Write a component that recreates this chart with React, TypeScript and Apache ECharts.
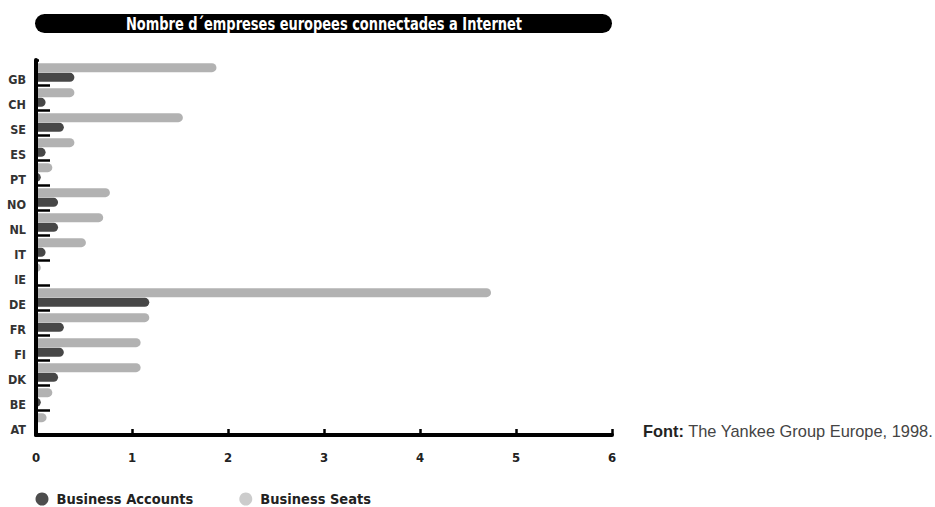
import React, { useEffect, useRef } from "react";
import * as echarts from "echarts";

const categories = ["AT", "BE", "DK", "FI", "FR", "DE", "IE", "IT", "NL", "NO", "PT", "ES", "SE", "CH", "GB"];
const businessAccounts = [0, 0.05, 0.23, 0.29, 0.29, 1.18, 0, 0.1, 0.23, 0.23, 0.05, 0.1, 0.29, 0.1, 0.4];
const businessSeats = [0.11, 0.17, 1.09, 1.09, 1.18, 4.74, 0.05, 0.52, 0.7, 0.77, 0.17, 0.4, 1.53, 0.4, 1.88];
const seriesNames = ["Business Accounts", "Business Seats"];
const titleText = "Nombre d´empreses europees connectades a Internet";
const sourceLabel = "Font:";
const sourceText = " The Yankee Group Europe, 1998.";

const COND = '"DejaVu Sans Condensed", "Liberation Sans Narrow", sans-serif';
const DARK = "#474747";
const LIGHT = "#b2b2b2";

export default function App() {
  const ref = useRef<HTMLDivElement>(null);
  useEffect(() => {
    if (!ref.current) return;
    const chart = echarts.init(ref.current, null, { renderer: "svg" });
    chart.setOption({
      animation: false,
      backgroundColor: "#ffffff",
      grid: { left: 36, right: 323, top: 60, bottom: 72, containLabel: false },
      xAxis: {
        type: "value",
        min: 0,
        max: 6,
        interval: 1,
        z: 10,
        axisLine: { show: true, lineStyle: { color: "#000", width: 4 } },
        axisTick: { show: true, inside: true, length: 6, lineStyle: { color: "#000", width: 2.5 } },
        splitLine: { show: false },
        axisLabel: { margin: 16, color: "#222", fontFamily: COND, fontWeight: "bold", fontSize: 13 },
      },
      yAxis: {
        type: "category",
        data: categories,
        z: 10,
        axisLine: { show: true, lineStyle: { color: "#000", width: 4 } },
        axisTick: { show: true, inside: true, length: 14, lineStyle: { color: "#000", width: 2.5 } },
        axisLabel: {
          margin: 10,
          color: "#333",
          fontFamily: COND,
          fontWeight: "bold",
          fontSize: 12.5,
          verticalAlign: "top",
        },
      },
      legend: {
        left: 35.5,
        top: 491.5,
        padding: 0,
        icon: "circle",
        itemWidth: 13,
        itemHeight: 13,
        itemGap: 46,
        textStyle: { fontFamily: COND, fontWeight: "bold", fontSize: 14.5, color: "#222", padding: [0, 0, 0, 3] },
        data: [
          { name: seriesNames[0], itemStyle: { color: "#4d4d4d" } },
          { name: seriesNames[1], itemStyle: { color: "#cccccc" } },
        ],
      },
      series: [
        {
          name: seriesNames[1],
          type: "bar",
          data: businessSeats,
          barWidth: 9,
          barGap: "8%",
          itemStyle: { color: LIGHT, borderRadius: [0, 4.5, 4.5, 0] },
        },
        {
          name: seriesNames[0],
          type: "bar",
          data: businessAccounts,
          barWidth: 9,
          barGap: "8%",
          itemStyle: { color: DARK, borderRadius: [0, 4.5, 4.5, 0] },
        },
      ],
      graphic: [
        {
          type: "rect",
          z: 100,
          shape: { x: 39, y: 56.5, width: 16, height: 5.5 },
          style: { fill: "#fff" },
        },
        {
          type: "rect",
          shape: { x: 35, y: 14, width: 577, height: 19, r: 9.5 },
          style: { fill: "#000" },
        },
        {
          type: "text",
          x: 324,
          y: 24,
          scaleX: 0.825,
          style: {
            text: titleText,
            fill: "#fff",
            font: `bold 17.5px ${COND}`,
            align: "center",
            verticalAlign: "middle",
          },
        },
        {
          type: "text",
          x: 643,
          y: 431,
          style: {
            text: `{b|${sourceLabel}}{r|${sourceText}}`,
            verticalAlign: "middle",
            rich: {
              b: { fontFamily: '"Liberation Sans", Arial, sans-serif', fontWeight: "bold", fontSize: 16.4, fill: "#222" },
              r: { fontFamily: '"Liberation Sans", Arial, sans-serif', fontSize: 16.4, fill: "#444" },
            },
          },
        },
      ],
    });
    return () => chart.dispose();
  }, []);
  return <div ref={ref} style={{ width: 935, height: 507, position: "absolute", left: 0, top: 0 }} />;
}
